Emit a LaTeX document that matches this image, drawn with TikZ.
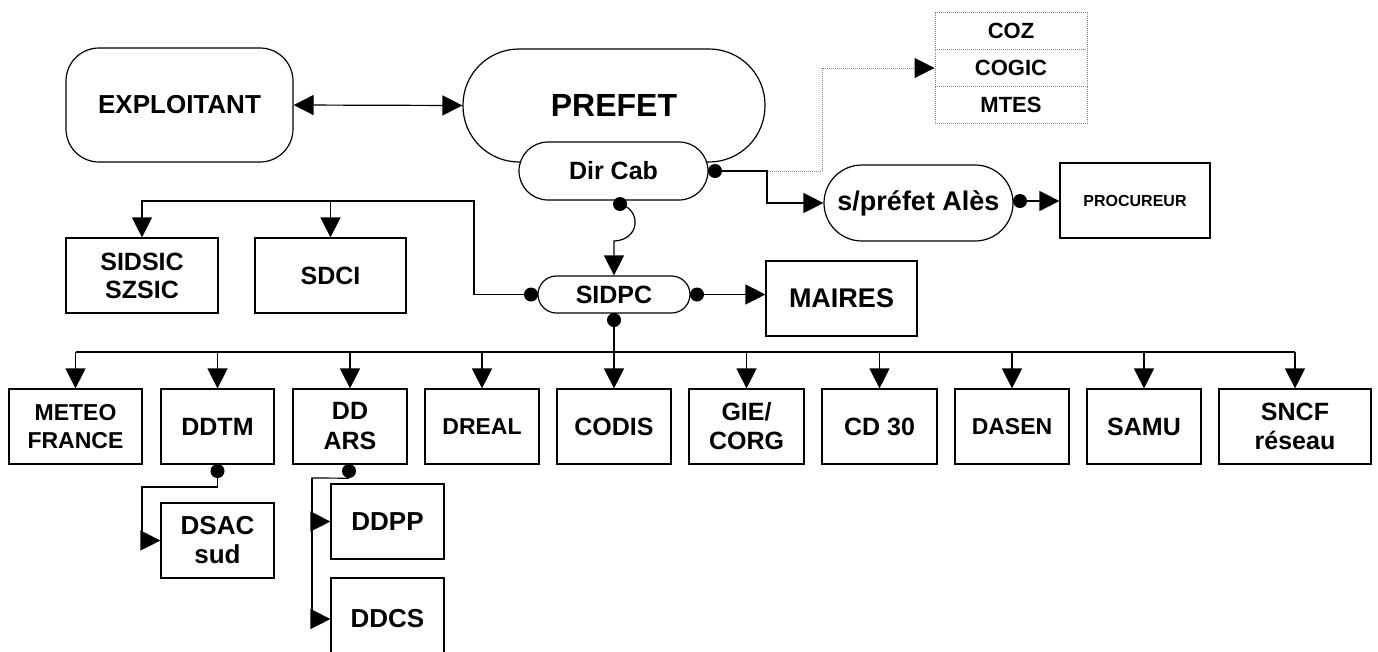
\documentclass[tikz,border=0pt]{standalone}
\usepackage{fontspec}
\setmainfont{Liberation Sans}
\usetikzlibrary{arrows.meta,calc}
\begin{document}
\begin{tikzpicture}[x=1pt,y=-1pt,
  box/.style={draw, line width=1.2pt, fill=white, inner sep=0pt, align=center,
    minimum width=114pt, minimum height=75pt,
    font=\bfseries\fontsize{25}{29}\selectfont},
  dotbox/.style={draw=gray, dash pattern=on 1pt off 1pt, line width=1pt, fill=white, inner sep=0pt,
    minimum width=152pt, minimum height=37.3pt, font=\bfseries\fontsize{22}{26}\selectfont},
  blob/.style={circle, fill=black, inner sep=0pt, minimum size=14pt},
  conn/.style={line width=1.2pt},
  arr/.style={conn, -{Triangle[length=20pt,width=20pt]}},
  darr/.style={conn, {Triangle[length=20pt,width=20pt]}-{Triangle[length=20pt,width=20pt]}},
  f23/.style={font=\bfseries\fontsize{23}{28}\selectfont},
]
\useasboundingbox (0,0) rectangle (1378,651);

% top
\node[box, minimum width=227pt, minimum height=114pt, rounded corners=33pt,
  font=\bfseries\fontsize{26}{30}\selectfont] (expl) at (179.5,105) {EXPLOITANT};
\node[box, minimum width=302pt, minimum height=113pt, rounded corners=56pt,
  font=\bfseries\fontsize{32}{36}\selectfont] (prefet) at (614,105.5) {PREFET};
\node[box, minimum width=189pt, minimum height=58pt, rounded corners=29pt] (dircab) at (613.5,171) {Dir Cab};
\node[dotbox] (coz) at (1011,30.7) {COZ};
\node[dotbox] (cogic) at (1011,68) {COGIC};
\node[dotbox] (mtes) at (1011,105.3) {MTES};
\node[box, minimum width=189pt, minimum height=76pt, rounded corners=38pt,
  font=\bfseries\fontsize{27}{31}\selectfont] (spref) at (918.5,203) {s/préfet Alès};
\node[box, minimum width=150pt, font=\bfseries\fontsize{16}{19}\selectfont] (proc) at (1135,200.5) {PROCUREUR};

% middle
\node[box, minimum width=152pt, font=\bfseries\fontsize{25}{28}\selectfont] (sidsic) at (142,275.5) {SIDSIC\\SZSIC};
\node[box, minimum width=151pt] (sdci) at (330.5,275.5) {SDCI};
\node[box, minimum width=152pt, minimum height=37pt, rounded corners=18.5pt] (sidpc) at (614,294.5) {SIDPC};
\node[box, minimum width=151pt, font=\bfseries\fontsize{27}{31}\selectfont] (maires) at (841.5,298.5) {MAIRES};

% bottom row
\node[box, minimum width=133pt, f23] (meteo) at (75.5,426.5) {METEO\\FRANCE};
\node[box, minimum width=113pt] (ddtm) at (217.5,426.5) {DDTM};
\node[box, font=\bfseries\fontsize{25}{30}\selectfont] (ddars) at (350,426.5) {DD\\ARS};
\node[box, f23] (dreal) at (482,426.5) {DREAL};
\node[box] (codis) at (614,426.5) {CODIS};
\node[box, minimum width=115pt] (gie) at (746.5,426.5) {GIE/\\CORG};
\node[box, minimum width=115pt] (cd30) at (879.5,426.5) {CD 30};
\node[box, f23] (dasen) at (1012,426.5) {DASEN};
\node[box] (samu) at (1144,426.5) {SAMU};
\node[box, minimum width=152pt] (sncf) at (1295,426.5) {SNCF\\réseau};

% sub boxes
\node[box, minimum width=113pt, font=\bfseries\fontsize{26}{29}\selectfont] (dsac) at (217.5,540.5) {DSAC\\sud};
\node[box, minimum width=113pt, font=\bfseries\fontsize{26}{29}\selectfont] (ddpp) at (387.5,521.5) {DDPP};
\node[box, minimum width=113pt, minimum height=82pt, font=\bfseries\fontsize{26}{29}\selectfont] (ddcs) at (387.5,619) {DDCS};

% dots
\node[blob] (dDirR) at (715,171) {};
\node[blob] (dDirB) at (620,204) {};
\node[blob] (dSprR) at (1020,201) {};
\node[blob] (dSidL) at (531,294.5) {};
\node[blob] (dSidR) at (697,294.5) {};
\node[blob] (dSidB) at (614,320) {};
\node[blob] (dDdtm) at (217.5,471) {};
\node[blob] (dDdars) at (349,471) {};

% junctions
\coordinate (j1) at (767,171);
\coordinate (j2) at (822,171);
\coordinate (jTop) at (474,201);
\coordinate (bus) at (614,352);
\coordinate (jd) at (142,487);
\coordinate (je) at (312,478);
\coordinate (jc) at (614,241);

% connectors
\draw[darr] (expl.east) -- (prefet.west);
\draw[line width=1pt, gray, dash pattern=on 1pt off 1pt, -{Triangle[length=20pt,width=20pt,color=black]}] (dDirR) -- (j2) |- (cogic.west);
\draw[arr] (dDirR) -- (j1) |- (spref.west);
\draw[arr] (dSprR) -- (dSprR -| proc.west);
\draw[arr] (dDirB.center) .. controls (642,210) and (640,240) .. (jc) -- (sidpc.north);
\draw[arr] (dSidL) -| (jTop) -| (sidsic.north);
\draw[arr] (sdci.north |- jTop) -- (sdci.north);
\draw[arr] (dSidR) -- (dSidR -| maires.west);
\draw[arr] (dSidB) -- (codis.north);
\draw[conn] (meteo.north |- bus) -- (sncf.north |- bus);
\foreach \n in {meteo,ddtm,ddars,dreal,gie,cd30,dasen,samu,sncf}
  \draw[arr] (\n.north |- bus) -- (\n.north);
\draw[arr] (dDdtm) |- (jd) |- (dsac.west);
\draw[arr] (dDdars.south) -- (je) |- (ddpp.west);
\draw[arr] (je) |- (ddcs.west);
\end{tikzpicture}
\end{document}
